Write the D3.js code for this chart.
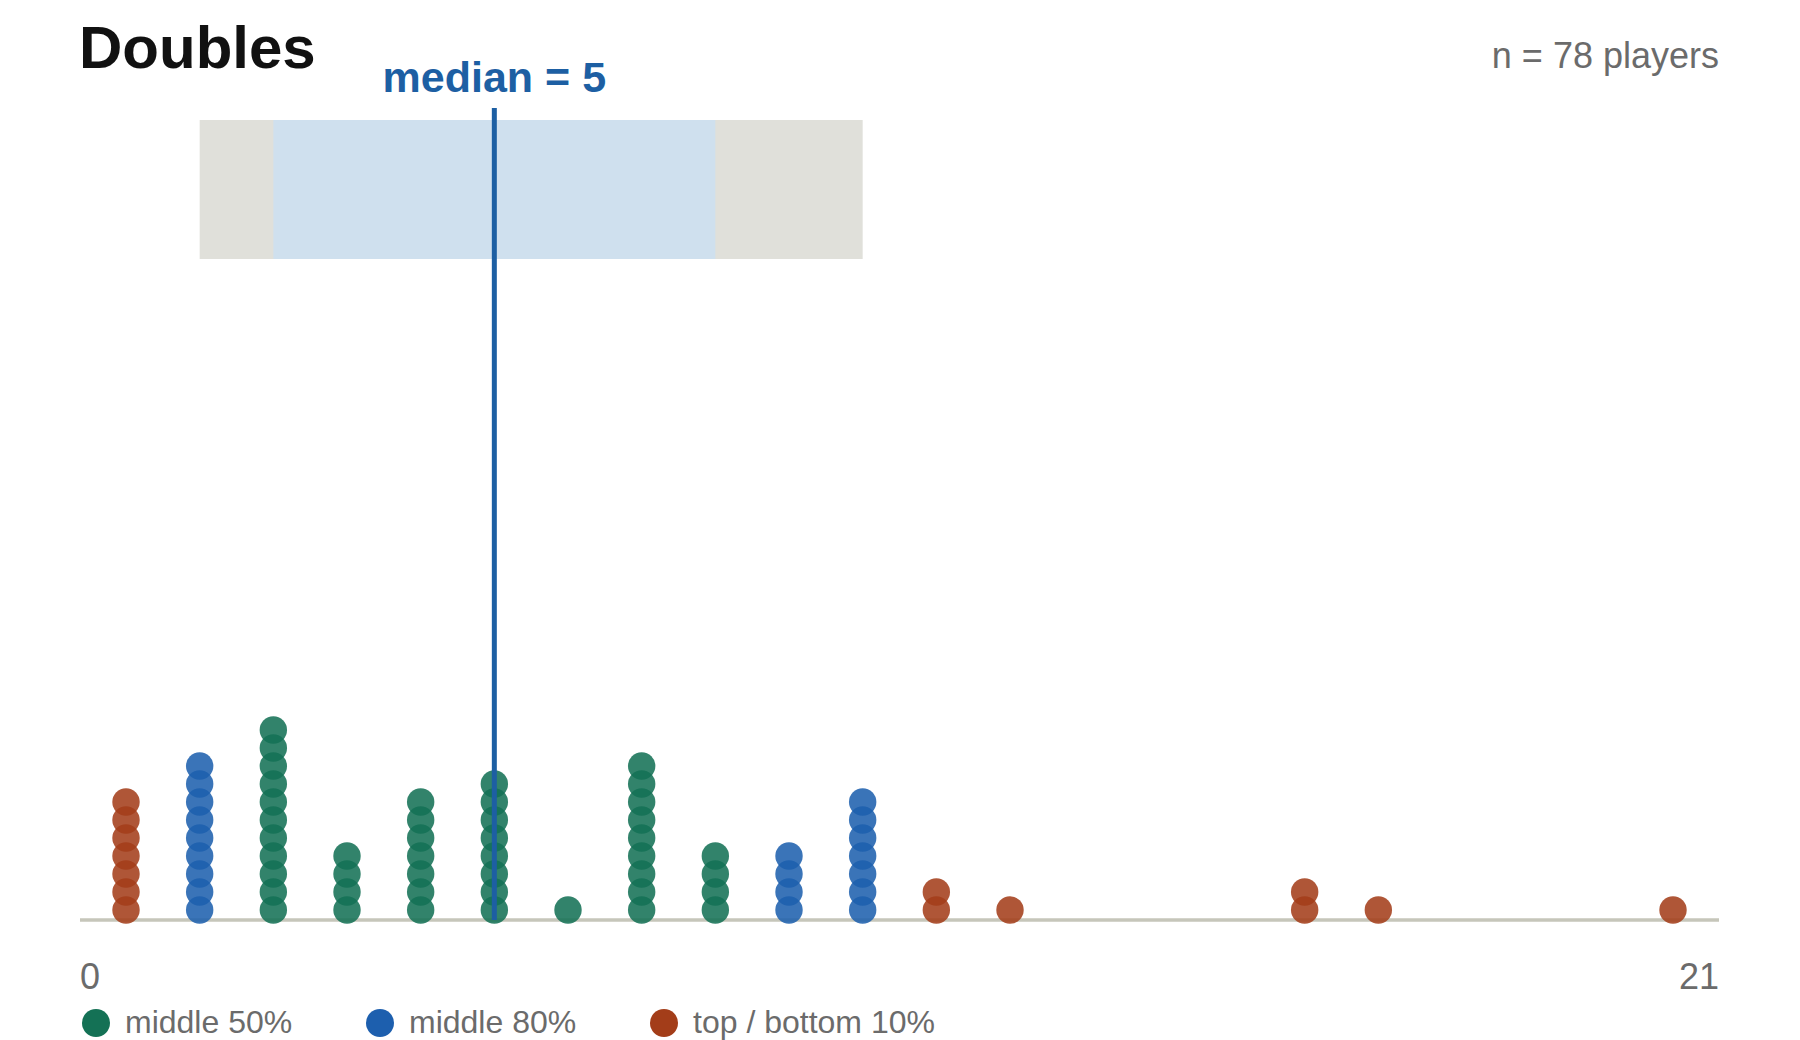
<!DOCTYPE html>
<html>
<head>
<meta charset="utf-8">
<script src="https://cdn.jsdelivr.net/npm/d3@7"></script>
<style>
  body { margin: 0; background: #fff; }
  text { font-family: "Liberation Sans", Arial, sans-serif; }
</style>
</head>
<body>
<div id="chart"></div>
<script>
// doubles per player, stacked by value
const values = [0, 1, 2, 3, 4, 5, 6, 7, 8, 9, 10, 11, 12, 16, 17, 21];
const counts = [7, 9, 11, 4, 7, 8, 1, 9, 4, 4, 7, 2, 1, 2, 1, 1];
const quantiles = [1, 2, 5, 8, 10]; // p10, p25, median, p75, p90
const groupNames = ["middle 50%", "middle 80%", "top / bottom 10%"];
const groupColors = ["#147155", "#1d5fae", "#a33d19"];
const tickLabels = ["0", "21"];

const width = 1800, height = 1040;
const svg = d3.select("#chart").append("svg")
    .attr("width", width).attr("height", height);

const x = d3.scaleLinear().domain([0, 21]).range([126, 1673]);
const y = d3.scaleLinear().domain([0, 10]).range([910, 730]);
const axisLeft = 80, axisRight = 1719, axisY = 920;

function groupOf(v) {
    if (v >= quantiles[1] && v <= quantiles[3]) return 0;
    if (v >= quantiles[0] && v <= quantiles[4]) return 1;
    return 2;
}

// dots, one per player
const dots = [];
values.forEach(function(v, i) {
    for (let k = 0; k < counts[i]; k++) dots.push({value: v, k: k, g: groupOf(v)});
});

// range box
svg.append("rect")
    .attr("x", x(quantiles[0])).attr("y", 120)
    .attr("width", x(quantiles[4]) - x(quantiles[0])).attr("height", 139)
    .attr("fill", "#e0e0da");
svg.append("rect")
    .attr("x", x(quantiles[1])).attr("y", 120)
    .attr("width", x(quantiles[3]) - x(quantiles[1])).attr("height", 139)
    .attr("fill", "#cfe0ee");

// baseline
svg.append("line")
    .attr("x1", axisLeft).attr("x2", axisRight)
    .attr("y1", axisY).attr("y2", axisY)
    .attr("stroke", "#c6c6ba").attr("stroke-width", 3.5);

svg.append("g").selectAll("circle")
    .data(dots)
    .enter().append("circle")
    .attr("cx", d => x(d.value))
    .attr("cy", d => y(d.k))
    .attr("r", 13.7)
    .attr("fill", d => groupColors[d.g])
    .attr("fill-opacity", 0.87);

// median line + label
svg.append("line")
    .attr("x1", x(quantiles[2])).attr("x2", x(quantiles[2]))
    .attr("y1", 108).attr("y2", axisY)
    .attr("stroke", "#1d5fa3").attr("stroke-width", 5);
svg.append("text")
    .attr("x", x(quantiles[2])).attr("y", 92)
    .attr("text-anchor", "middle")
    .attr("font-size", "43px").attr("font-weight", "bold")
    .attr("fill", "#1d5fa3")
    .text("median = " + quantiles[2]);

// title and n
svg.append("text")
    .attr("x", 79).attr("y", 68)
    .attr("font-size", "60px").attr("font-weight", "bold")
    .attr("fill", "#111")
    .text("Doubles");
svg.append("text")
    .attr("x", axisRight).attr("y", 68)
    .attr("text-anchor", "end")
    .attr("font-size", "36px").attr("fill", "#6b6b6b")
    .text("n = " + d3.sum(counts) + " players");

// end labels
svg.append("text")
    .attr("x", axisLeft).attr("y", 989)
    .attr("font-size", "36px").attr("fill", "#6b6b6b")
    .text(tickLabels[0]);
svg.append("text")
    .attr("x", axisRight).attr("y", 989)
    .attr("text-anchor", "end")
    .attr("font-size", "36px").attr("fill", "#6b6b6b")
    .text(tickLabels[1]);

// legend
const legend = svg.selectAll(".legend").data(groupNames)
    .enter().append("g").attr("class", "legend")
    .attr("transform", (d, i) => "translate(" + (96 + i * 284) + ",1023)");
legend.append("circle").attr("r", 14)
    .attr("fill", (d, i) => groupColors[i]);
legend.append("text").attr("x", 29).attr("y", 10)
    .attr("font-size", "32px").attr("fill", "#6b6b6b")
    .text(d => d);
</script>
</body>
</html>
